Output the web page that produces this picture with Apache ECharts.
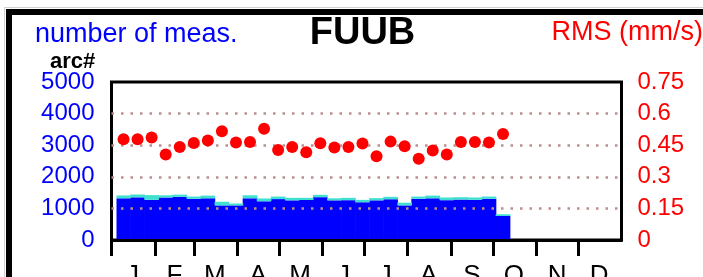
<!DOCTYPE html>
<html>
<head>
<meta charset="utf-8">
<script src="https://cdn.jsdelivr.net/npm/echarts@6/dist/echarts.min.js"></script>
<style>
  html, body { margin: 0; padding: 0; background: #fff; }
  #chart { width: 703px; height: 277px; }
</style>
</head>
<body>
<div id="chart"></div>
<script>
// month axis (day of year)
const months = ['J', 'F', 'M', 'A', 'M', 'J', 'J', 'A', 'S', 'O', 'N', 'D'];
const monthStartDays = [0, 31, 59, 90, 120, 151, 181, 212, 243, 273, 304, 334];
const monthMidDays = [15, 45, 74, 105, 135, 166, 196, 227, 258, 288, 319, 349];
const monthNames = ['Jan', 'Feb', 'Mar', 'Apr', 'May', 'Jun', 'Jul', 'Aug', 'Sep', 'Oct', 'Nov', 'Dec'];

// day-of-year slots for the month axis
const days = [];
for (let d = 0; d <= 365; d++) days.push(String(d));

// 10-day bins (3 per month)
const dekads = [];
monthNames.forEach(m => { dekads.push(m + ' 1', m + ' 2', m + ' 3'); });

// number of arcs (blue) and additional measurements (turquoise) per dekad
const arcCount = [1320, 1350, 1270, 1345, 1365, 1305, 1320, 1095, 1095, 1320,
                  1225, 1295, 1255, 1265, 1355, 1255, 1260, 1195, 1255, 1290,
                  1095, 1305, 1320, 1260, 1280, 1270, 1305, 760];
const extraMeas = [90, 90, 150, 70, 70, 70, 85, 115, 60, 95,
                   90, 80, 80, 70, 75, 65, 75, 75, 70, 75,
                   85, 70, 85, 85, 75, 75, 70, 55];

// RMS (mm/s) per dekad
const rmsValues = [0.478, 0.478, 0.486, 0.406, 0.441, 0.461, 0.472, 0.516, 0.463, 0.465,
                   0.528, 0.427, 0.442, 0.416, 0.459, 0.439, 0.441, 0.458, 0.397, 0.467,
                   0.445, 0.386, 0.425, 0.406, 0.465, 0.465, 0.463, 0.503];

const FONT = '"Liberation Sans", Arial, sans-serif';

const chart = echarts.init(document.getElementById('chart'));

const option = {
  animation: false,
  textStyle: { fontFamily: FONT },
  grid: [
    // frame with the visible axes
    { left: 111.5, top: 82, width: 510, height: 158, show: true, borderColor: '#000', borderWidth: 3, outerBoundsMode: 'none', containLabel: false },
    // data area (dekad bins)
    { left: 116.5, top: 82, width: 506, height: 158, show: false, outerBoundsMode: 'none', containLabel: false },
    // strip under the axis for the month ticks
    { left: 111.5, top: 240, width: 510, height: 16, show: false, outerBoundsMode: 'none', containLabel: false }
  ],
  xAxis: [
    {
      gridIndex: 0,
      type: 'category',
      position: 'bottom',
      data: days,
      boundaryGap: false,
      z: 3,
      axisLine: { show: true, onZero: false, lineStyle: { color: '#000', width: 3 } },
      axisTick: { show: false },
      axisLabel: {
        interval: idx => monthMidDays.includes(idx),
        color: '#000',
        fontSize: 26,
        margin: 23,
        formatter: function (v) {
          const i = monthMidDays.indexOf(Number(v));
          return i >= 0 ? months[i] : '';
        }
      },
      splitLine: { show: false }
    },
    { gridIndex: 1, type: 'category', data: dekads, boundaryGap: true, show: false },
    {
      gridIndex: 2,
      type: 'category',
      data: days,
      boundaryGap: false,
      axisLine: { show: false },
      axisTick: { show: false },
      axisLabel: { show: false },
      splitLine: {
        show: true,
        interval: idx => monthStartDays.includes(idx),
        lineStyle: { color: '#000', width: 3, type: 'solid' }
      }
    }
  ],
  yAxis: [
    {
      gridIndex: 0,
      type: 'value',
      position: 'left',
      min: 0,
      max: 5000,
      interval: 1000,
      z: 3,
      axisLine: { show: false, onZero: false },
      axisTick: { show: false },
      axisLabel: { color: '#0000ff', fontSize: 24, margin: 17, formatter: v => String(v) },
      splitLine: {
        show: true,
        showMinLine: false,
        showMaxLine: false,
        lineStyle: { color: '#bc8f8f', type: [2.5, 7], width: 2.5 }
      }
    },
    {
      gridIndex: 0,
      type: 'value',
      position: 'right',
      min: 0,
      max: 0.75,
      interval: 0.15,
      z: 3,
      axisLine: { show: false, onZero: false },
      axisTick: { show: false },
      axisLabel: { color: '#ff0000', fontSize: 24, margin: 16, formatter: v => String(+v.toFixed(2)) },
      splitLine: { show: false }
    },
    { gridIndex: 1, type: 'value', min: 0, max: 5000, show: false },
    { gridIndex: 1, type: 'value', min: 0, max: 0.75, show: false },
    {
      gridIndex: 2, type: 'value', min: 0, max: 1,
      axisLine: { show: false }, axisTick: { show: false }, axisLabel: { show: false }, splitLine: { show: false }
    }
  ],
  series: [
    {
      name: 'arcs',
      type: 'bar',
      xAxisIndex: 1,
      yAxisIndex: 2,
      stack: 'meas',
      barWidth: 14.7,
      data: arcCount,
      itemStyle: { color: '#0000ff' },
      z: 2
    },
    {
      name: 'meas',
      type: 'bar',
      xAxisIndex: 1,
      yAxisIndex: 2,
      stack: 'meas',
      barWidth: 14.7,
      data: extraMeas,
      itemStyle: { color: '#40e0d0' },
      z: 2
    },
    {
      name: 'RMS',
      type: 'scatter',
      xAxisIndex: 1,
      yAxisIndex: 3,
      data: rmsValues,
      symbolSize: 12,
      itemStyle: { color: '#ff0000', opacity: 1 },
      z: 4
    }
  ],
  graphic: [
    { type: 'rect', silent: true, shape: { x: 4.5, y: 7.5, width: 1000, height: 1000 },
      style: { fill: 'none', stroke: '#d0d0d0', lineWidth: 1 } },
    { type: 'rect', silent: true, shape: { x: 9, y: 12, width: 1000, height: 1000 },
      style: { fill: 'none', stroke: '#000', lineWidth: 6 } },
    { type: 'text', x: 35, y: 35, style: { text: 'number of meas.', fill: '#0000ff', font: '27px ' + FONT, align: 'left', verticalAlign: 'middle' } },
    { type: 'text', x: 362.5, y: 33.5, style: { text: 'FUUB', fill: '#000', font: 'bold 38px ' + FONT, align: 'center', verticalAlign: 'middle' } },
    { type: 'text', x: 703, y: 32.3, style: { text: 'RMS (mm/s)', fill: '#ff0000', font: '27px ' + FONT, align: 'right', verticalAlign: 'middle' } },
    { type: 'text', x: 50, y: 62.4, style: { text: 'arc#', fill: '#000', font: 'bold 22px ' + FONT, align: 'left', verticalAlign: 'middle' } }
  ]
};

option && chart.setOption(option);
</script>
</body>
</html>
